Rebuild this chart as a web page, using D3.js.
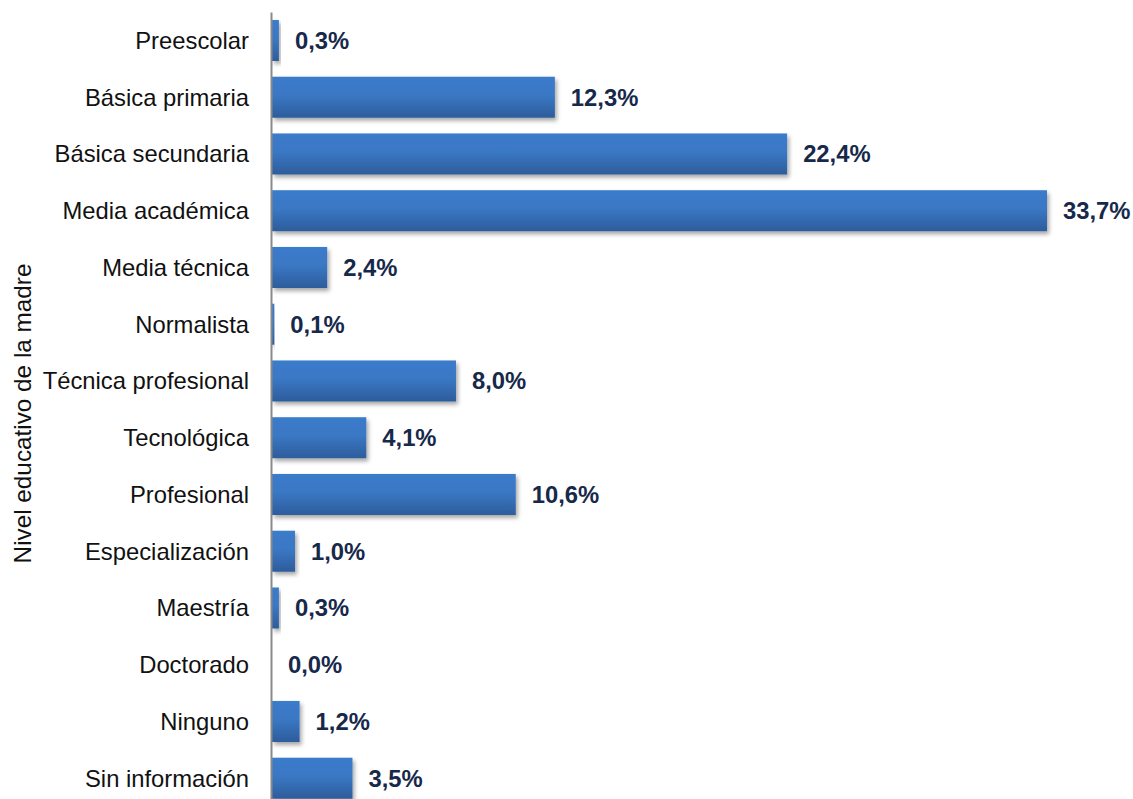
<!DOCTYPE html>
<html>
<head>
<meta charset="utf-8">
<script src="https://cdn.jsdelivr.net/npm/d3@7"></script>
<style>
  html, body { margin: 0; padding: 0; background: #fff; }
  svg { display: block; font-family: "Liberation Sans", Arial, sans-serif; }
</style>
</head>
<body>
<svg id="chart" width="1133" height="799"></svg>
<script>
// Nivel educativo de la madre: categorías y porcentajes
const categories = [
  "Preescolar", "Básica primaria", "Básica secundaria", "Media académica",
  "Media técnica", "Normalista", "Técnica profesional", "Tecnológica",
  "Profesional", "Especialización", "Maestría", "Doctorado", "Ninguno",
  "Sin información"
];
const values = [0.3, 12.3, 22.4, 33.7, 2.4, 0.1, 8.0, 4.1, 10.6, 1.0, 0.3, 0.0, 1.2, 3.5];
const axisTitle = "Nivel educativo de la madre";

const data = categories.map((c, i) => ({ cat: c, val: values[i] }));

const svg = d3.select("#chart");

const step = 56.75;
const y = d3.scaleBand()
  .domain(categories)
  .range([12.1, 12.1 + step * categories.length])
  .paddingInner(0.277)
  .paddingOuter(0.1385);

const x = d3.scaleLinear()
  .domain([0, 33.7])
  .range([272, 1047]);

const defs = svg.append("defs");
const grad = defs.append("linearGradient")
  .attr("id", "barGrad")
  .attr("x1", 0).attr("y1", 0).attr("x2", 0).attr("y2", 1);
grad.append("stop").attr("offset", "0%").attr("stop-color", "#3b7bcb");
grad.append("stop").attr("offset", "45%").attr("stop-color", "#3a78c4");
grad.append("stop").attr("offset", "100%").attr("stop-color", "#2d5c9b");

const shadow = defs.append("filter")
  .attr("id", "barShadow")
  .attr("x", "-10%").attr("y", "-20%")
  .attr("width", "130%").attr("height", "160%");
shadow.append("feDropShadow")
  .attr("dx", 2).attr("dy", 3)
  .attr("stdDeviation", 2.2)
  .attr("flood-color", "#000")
  .attr("flood-opacity", 0.35);

// Barras
svg.append("g")
  .selectAll("rect")
  .data(data)
  .join("rect")
  .attr("x", x(0))
  .attr("y", d => y(d.cat))
  .attr("width", d => x(d.val) - x(0))
  .attr("height", y.bandwidth())
  .attr("fill", "url(#barGrad)")
  .attr("filter", "url(#barShadow)");

// Eje de categorías
const axis = svg.append("g")
  .attr("transform", "translate(271,0)")
  .call(d3.axisLeft(y).tickSize(0).tickSizeOuter(0).tickPadding(22));
axis.select(".domain")
  .attr("stroke", "#8a8a8a")
  .attr("stroke-width", 2);
axis.selectAll("text")
  .attr("font-family", "'Liberation Sans', Arial, sans-serif")
  .attr("font-size", 23.8)
  .attr("fill", "#111")
  .attr("dy", "0.35em");

// Etiquetas de valor
svg.append("g")
  .selectAll("text")
  .data(data)
  .join("text")
  .attr("x", d => x(d.val) + 16)
  .attr("y", d => y(d.cat) + y.bandwidth() / 2)
  .attr("dy", "0.35em")
  .attr("font-size", 23.8)
  .attr("font-weight", "bold")
  .attr("fill", "#17294a")
  .text(d => d.val.toFixed(1).replace(".", ",") + "%");

// Título del eje
svg.append("text")
  .attr("transform", "translate(31,413.5) rotate(-90)")
  .attr("text-anchor", "middle")
  .attr("font-size", 24.3)
  .attr("fill", "#111")
  .text(axisTitle);
</script>
</body>
</html>
